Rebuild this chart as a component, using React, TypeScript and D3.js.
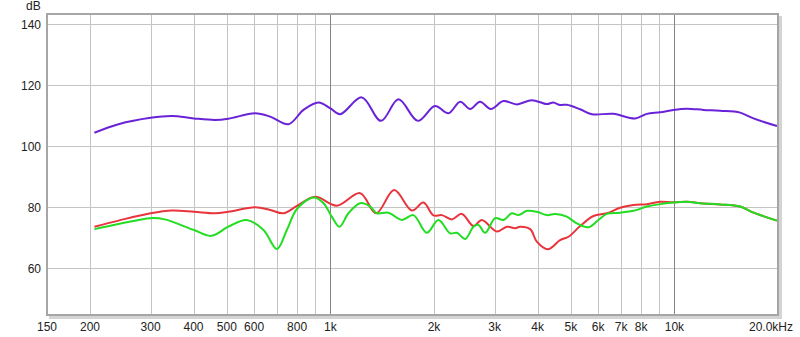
import React from "react";
import * as d3 from "d3";

const purple: [number, number][] = [
  [206, 104.5], [242, 107.3], [300, 109.4], [346, 110.0], [401, 109.2], [462, 108.7],
  [505, 109.1], [604, 110.9], [668, 109.8], [755, 107.3], [835, 112.0], [923, 114.4],
  [1000, 112.5], [1067, 110.6], [1234, 116.1], [1403, 108.4], [1577, 115.5], [1795, 108.4],
  [2014, 113.3], [2203, 110.9], [2383, 114.7], [2547, 112.3], [2723, 114.7], [2925, 112.3],
  [3184, 114.9], [3483, 113.8], [3848, 115.2], [4256, 113.9], [4446, 114.4], [4652, 113.6],
  [4864, 113.7], [5321, 112.2], [5754, 110.6], [6646, 110.7], [7690, 109.2], [8318, 110.7],
  [9082, 111.2], [9931, 112.0], [10864, 112.4], [12140, 112.0], [13580, 111.7], [15520, 111.1],
  [16980, 109.2], [19860, 106.7],
];

const red: [number, number][] = [
  [206, 73.7], [242, 75.7], [300, 78.1], [346, 79.0], [401, 78.6], [462, 78.1], [505, 78.6],
  [604, 80.1], [668, 79.2], [730, 78.1], [799, 80.5], [903, 83.5], [1044, 80.6],
  [1220, 84.7], [1358, 78.1], [1532, 85.7], [1725, 79.0], [1864, 81.6], [1992, 77.4],
  [2108, 77.5], [2254, 76.1], [2410, 77.9], [2605, 73.9], [2754, 75.9], [3047, 72.1],
  [3258, 73.7], [3443, 73.2], [3560, 73.7], [3808, 72.9], [3981, 68.8], [4285, 66.3],
  [4652, 69.3], [4920, 70.4], [5321, 73.9], [5816, 77.2], [6360, 78.1], [6950, 79.9],
  [7600, 80.8], [8318, 81.1], [9082, 81.9], [9931, 81.7], [10864, 81.9], [12140, 81.3],
  [13580, 81.0], [15520, 80.3], [16980, 78.3], [19860, 75.7],
];

const green: [number, number][] = [
  [206, 72.9], [242, 74.6], [300, 76.5], [330, 76.1], [401, 72.6], [450, 70.7], [505, 73.7],
  [571, 75.9], [639, 72.6], [699, 66.4], [747, 72.6], [799, 79.5], [893, 83.3],
  [954, 81.5], [1009, 77.0], [1062, 73.7], [1128, 78.1], [1220, 81.4], [1305, 80.3],
  [1364, 78.1], [1474, 78.3], [1613, 75.9], [1743, 77.5], [1906, 71.7], [2060, 75.9],
  [2230, 71.5], [2330, 71.7], [2465, 69.7], [2605, 73.7], [2692, 74.3], [2817, 71.7],
  [3012, 76.5], [3184, 75.9], [3367, 78.1], [3521, 77.5], [3725, 78.9], [3981, 78.6],
  [4256, 77.5], [4500, 77.9], [4864, 77.0], [5200, 74.8], [5623, 73.5], [6012, 75.9],
  [6360, 77.9], [6950, 78.3], [7600, 78.9], [8318, 80.3], [9082, 81.1], [9931, 81.6],
  [10864, 81.9], [11880, 81.4], [13580, 81.0], [15520, 80.3], [16980, 78.3], [19860, 75.7],
];

const yTicks = [60, 80, 100, 120, 140];
const xGrid = [200, 300, 400, 500, 600, 700, 800, 900, 2000, 3000, 4000, 5000, 6000, 7000, 8000, 9000];
const xMajor = [1000, 10000];
const xLabels: [number, string][] = [
  [150, "150"], [200, "200"], [300, "300"], [400, "400"], [500, "500"], [600, "600"],
  [800, "800"], [1000, "1k"], [2000, "2k"], [3000, "3k"], [4000, "4k"], [5000, "5k"],
  [6000, "6k"], [7000, "7k"], [8000, "8k"], [10000, "10k"],
];

const L = 47, R = 778, T = 14, B = 315;

export default function App() {
  const x = d3.scaleLog().domain([150, 20000]).range([L, R]);
  const y = d3.scaleLinear().domain([44.75, 143.44]).range([B, T]);
  const line = d3
    .line<[number, number]>()
    .x((d) => x(d[0]))
    .y((d) => y(d[1]))
    .curve(d3.curveCatmullRom.alpha(0.5));
  const font = "'Liberation Sans', Arial, sans-serif";
  const px = (v: number) => Math.round(v) + 0.5;

  return (
    <svg width={800} height={337} style={{ position: "absolute", left: 0, top: 0, background: "#fff" }} fontFamily={font} fontSize={12}>
      <rect x={0} y={0} width={800} height={337} fill="#fff" />
      <rect x={L + 2} y={T + 2} width={R - L + 2} height={B - T + 2} fill="#d4d4d4" />
      <rect x={L} y={T} width={R - L} height={B - T} fill="#fff" />
      {yTicks.map((v) => (
        <line key={"h" + v} x1={L} x2={R} y1={px(y(v))} y2={px(y(v))} stroke="#c4c4c4" strokeWidth={1} />
      ))}
      {xGrid.map((f) => (
        <line key={"v" + f} x1={px(x(f))} x2={px(x(f))} y1={T} y2={B} stroke="#c4c4c4" strokeWidth={1} />
      ))}
      {xMajor.map((f) => (
        <line key={"m" + f} x1={px(x(f))} x2={px(x(f))} y1={T} y2={B} stroke="#858585" strokeWidth={1} />
      ))}
      <rect x={L} y={T} width={R - L} height={B - T} fill="none" stroke="#a6a6a6" strokeWidth={2} />
      <path d={line(purple) || ""} fill="none" stroke="#6a22d8" strokeWidth={2} />
      <path d={line(red) || ""} fill="none" stroke="#e8343c" strokeWidth={2} />
      <path d={line(green) || ""} fill="none" stroke="#22dd22" strokeWidth={2} />
      {yTicks.map((v) => (
        <text key={"yl" + v} x={41} y={y(v) + 4.5} textAnchor="end" fill="#222">
          {v}
        </text>
      ))}
      <text x={26} y={10} fill="#222">dB</text>
      {xLabels.map(([f, s]) => (
        <text key={"xl" + f} x={x(f)} y={331} textAnchor="middle" fill="#222">
          {s}
        </text>
      ))}
      <text x={793} y={331} textAnchor="end" fill="#222">20.0kHz</text>
    </svg>
  );
}
